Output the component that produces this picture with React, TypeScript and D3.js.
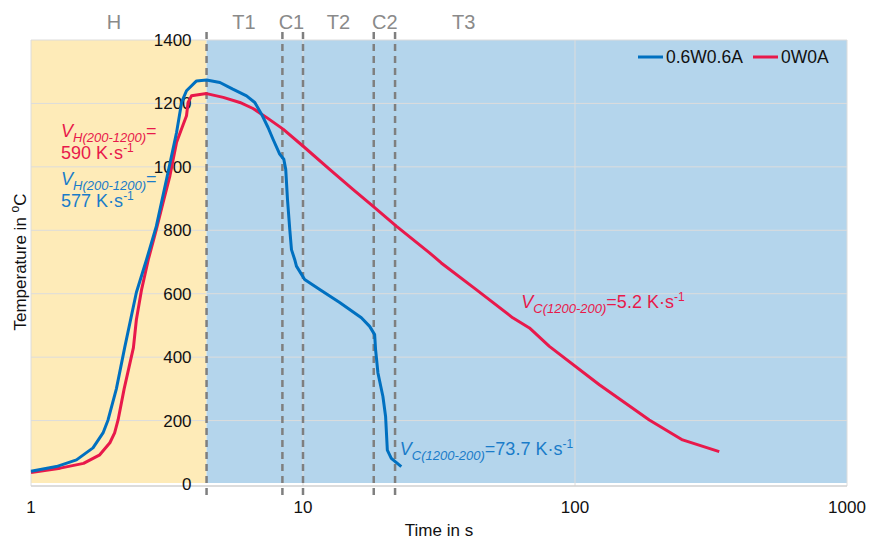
import { useEffect, useRef } from 'react'
import * as d3 from 'd3'

// time in s, temperature in °C
const blueTime = [1.0, 1.24, 1.47, 1.69, 1.84, 1.92, 2.06, 2.21, 2.44, 2.66, 2.89, 3.15, 3.43, 3.58, 3.73, 4.06, 4.42, 4.95, 5.52, 6.2, 6.65, 7.04, 7.44, 7.76, 8.21, 8.5, 8.64, 8.77, 8.94, 9.07, 9.32, 9.46, 10.14, 11.52, 13.64, 16.39, 17.58, 18.34, 18.49, 18.86, 19.67, 20.12, 20.42, 21.12, 22.98]
const blueTemp = [40, 55, 76, 114, 161, 202, 300, 430, 604, 708, 813, 961, 1109, 1204, 1240, 1271, 1274, 1266, 1245, 1224, 1203, 1166, 1124, 1087, 1040, 1024, 992, 897, 803, 739, 708, 687, 645, 613, 572, 524, 497, 471, 423, 350, 276, 213, 107, 81, 55]

const redTime = [1.0, 1.28, 1.56, 1.79, 1.95, 2.03, 2.09, 2.2, 2.38, 2.44, 2.55, 2.7, 2.89, 3.06, 3.24, 3.43, 3.61, 3.73, 3.78, 3.89, 4.42, 5.09, 5.86, 6.55, 7.34, 8.45, 10.14, 12.53, 15.26, 18.07, 22.03, 29.19, 32.23, 43.35, 59.04, 68.0, 80.5, 122.9, 187.6, 248.6, 339.1]
const redTemp = [36, 50, 65, 92, 130, 161, 202, 300, 430, 518, 613, 708, 803, 888, 971, 1078, 1129, 1161, 1203, 1224, 1231, 1219, 1203, 1184, 1156, 1119, 1061, 992, 929, 876, 813, 729, 697, 613, 524, 492, 434, 313, 202, 139, 102]

const seriesNames = ['0.6W0.6A', '0W0A']
const seriesColors = ['#0070c0', '#e8194b']

const phaseBounds = [4.42, 8.4, 10.0, 18.2, 21.8]
const phaseLabels = ['H', 'T1', 'C1', 'T2', 'C2', 'T3']
const phaseLabelTimes = [2.02, 6.07, 9.07, 13.5, 20.0, 39.0]

const xTicks = [1, 10, 100, 1000]
const yTicks = [0, 200, 400, 600, 800, 1000, 1200, 1400]

const FONT = '"Liberation Sans", Arial, sans-serif'

export default function App() {
  const svgRef = useRef<SVGSVGElement>(null)

  useEffect(() => {
    const W = 869
    const H = 542
    const x = d3.scaleLog().domain([1, 1000]).range([31, 847])
    const y = d3.scaleLinear().domain([0, 1400]).range([484, 40])

    const svg = d3.select(svgRef.current)
    svg.selectAll('*').remove()
    svg.attr('width', W).attr('height', H).style('font-family', FONT)

    const x0 = x(1), x1 = x(1000), yTop = y(1400), yBot = y(0)
    const xSplit = x(phaseBounds[0])

    // background zones
    svg.append('rect').attr('x', x0).attr('y', yTop).attr('width', xSplit - x0).attr('height', yBot - yTop - 1)
      .attr('fill', '#feebb8')
    svg.append('rect').attr('x', xSplit).attr('y', yTop).attr('width', x1 - xSplit).attr('height', yBot - yTop - 1)
      .attr('fill', '#b4d5ec')

    // gridlines
    svg.append('g').selectAll('line').data(yTicks.slice(1)).join('line')
      .attr('x1', x0).attr('x2', x1).attr('y1', (d) => y(d)).attr('y2', (d) => y(d))
      .attr('stroke', '#dcdcdc').attr('stroke-width', 1)
    svg.append('g').selectAll('line').data(xTicks).join('line')
      .attr('x1', (d) => x(d)).attr('x2', (d) => x(d)).attr('y1', yTop).attr('y2', yBot + 2)
      .attr('stroke', '#dcdcdc').attr('stroke-width', 1)
    svg.append('line').attr('x1', x0).attr('x2', x1).attr('y1', yBot + 2).attr('y2', yBot + 2)
      .attr('stroke', '#d0d0d0').attr('stroke-width', 1.5)

    // x tick labels
    svg.append('g').selectAll('text').data(xTicks).join('text')
      .attr('x', (d) => x(d)).attr('y', 513).attr('text-anchor', 'middle')
      .attr('font-size', 17).attr('fill', '#111').text((d) => String(d))

    // y tick labels (axis crosses at the end of heating)
    svg.append('g').selectAll('text').data(yTicks).join('text')
      .attr('x', xSplit - 15).attr('y', (d) => y(d)).attr('dy', '0.35em').attr('text-anchor', 'end')
      .attr('font-size', 17).attr('fill', '#111').text((d) => String(d))

    // phase boundaries
    svg.append('g').selectAll('line').data(phaseBounds).join('line')
      .attr('x1', (d) => x(d)).attr('x2', (d) => x(d)).attr('y1', 32).attr('y2', 500)
      .attr('stroke', '#7f7f7f').attr('stroke-width', 2.5).attr('stroke-dasharray', '7,5')

    svg.append('g').selectAll('text').data(phaseLabels).join('text')
      .attr('x', (_, i) => x(phaseLabelTimes[i])).attr('y', 29).attr('text-anchor', 'middle')
      .attr('font-size', 20).attr('fill', '#8a8a8a').text((d) => d)

    // curves
    const line = d3.line<[number, number]>().x((d) => x(d[0])).y((d) => y(d[1]))
    const blue: [number, number][] = blueTime.map((t, i) => [t, blueTemp[i]])
    const red: [number, number][] = redTime.map((t, i) => [t, redTemp[i]])
    svg.append('path').datum(red).attr('fill', 'none').attr('stroke', seriesColors[1])
      .attr('stroke-width', 3).attr('stroke-linejoin', 'round').attr('d', line)
    svg.append('path').datum(blue).attr('fill', 'none').attr('stroke', seriesColors[0])
      .attr('stroke-width', 3).attr('stroke-linejoin', 'round').attr('d', line)

    // legend
    const legendX = [638, 753]
    seriesNames.forEach((name, i) => {
      const lg = svg.append('g').attr('transform', `translate(${legendX[i]},57)`)
      lg.append('line').attr('x1', 0).attr('x2', 25).attr('y1', 0).attr('y2', 0)
        .attr('stroke', seriesColors[i]).attr('stroke-width', 3)
      lg.append('text').attr('x', 28).attr('y', 0).attr('dy', '0.35em')
        .attr('font-size', 17.5).attr('fill', '#111').text(name)
    })

    // rate annotations
    const rate = (px: number, py: number, color: string, sub: string, rest: string, secondLine: string | null) => {
      const t = svg.append('text').attr('x', px).attr('y', py).attr('fill', color).attr('font-size', 18)
      t.append('tspan').attr('font-style', 'italic').text('V')
      t.append('tspan').attr('font-style', 'italic').attr('font-size', 13).attr('dy', 5).text(sub)
      t.append('tspan').attr('dy', -5).text(rest)
      const tail = (el: d3.Selection<SVGTextElement, unknown, null, undefined>, txt: string) => {
        el.append('tspan').text(txt)
        el.append('tspan').attr('font-size', 12).attr('dy', -7).text('-1')
      }
      if (secondLine) {
        const t2 = svg.append('text').attr('x', px).attr('y', py + 22).attr('fill', color).attr('font-size', 18)
        tail(t2, secondLine)
      } else {
        t.append('tspan').text('')
      }
      return t
    }
    rate(x(1.29), y(1093), seriesColors[1], 'H(200-1200)', '=', '590 K·s')
    rate(x(1.29), y(942), '#1a7cc9', 'H(200-1200)', '=', '577 K·s')
    const r1 = rate(x(63.5), y(556), seriesColors[1], 'C(1200-200)', '=5.2 K·s', null)
    r1.append('tspan').attr('font-size', 12).attr('dy', -7).text('-1')
    const r2 = rate(x(22.7), y(92), '#1a7cc9', 'C(1200-200)', '=73.7 K·s', null)
    r2.append('tspan').attr('font-size', 12).attr('dy', -7).text('-1')

    // axis titles
    svg.append('text').attr('x', (x0 + x1) / 2).attr('y', 536).attr('text-anchor', 'middle')
      .attr('font-size', 17).attr('fill', '#111').text('Time in s')
    const yt = svg.append('text').attr('transform', `translate(26,${(yTop + yBot) / 2}) rotate(-90)`)
      .attr('text-anchor', 'middle').attr('font-size', 17).attr('fill', '#111')
    yt.append('tspan').text('Temperature in ')
    yt.append('tspan').attr('font-size', 12).attr('dy', -7).text('o')
    yt.append('tspan').attr('dy', 7).text('C')

    return () => { svg.selectAll('*').remove() }
  }, [])

  return (
    <div style={{ position: 'absolute', left: 0, top: 0 }}>
      <svg ref={svgRef} style={{ display: 'block' }} />
    </div>
  )
}
